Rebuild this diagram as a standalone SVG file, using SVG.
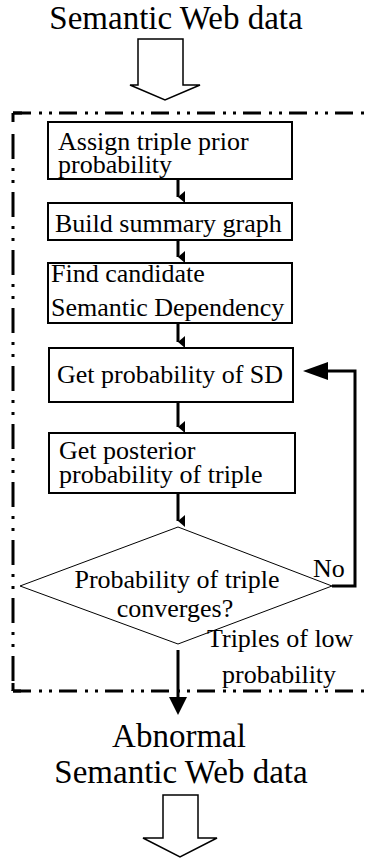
<svg xmlns="http://www.w3.org/2000/svg" width="371" height="858" viewBox="0 0 371 858">
<style>
text{font-family:"Liberation Serif","Times New Roman",serif;fill:#000}
.t{font-size:26px}
.big{font-size:33px}
.box{fill:#fff;stroke:#000;stroke-width:2}
.dia{fill:#fff;stroke:#000;stroke-width:1}
.con{fill:none;stroke:#000;stroke-width:3}
.hollow{fill:#fff;stroke:#000;stroke-width:1.5}
.bv{fill:none;stroke:#000;stroke-width:3;stroke-dasharray:25 9 3 9 3 9}
.bh{fill:none;stroke:#000;stroke-width:3;stroke-dasharray:18 8 3 7 3 7}
</style>
<defs>
<marker id="sm" viewBox="0 0 12 7" refX="6" refY="7" markerWidth="12" markerHeight="7" markerUnits="userSpaceOnUse" orient="auto-start-reverse">
<path d="M0,0 L12,0 L6,7 Z" fill="#000"/>
</marker>
</defs>
<g id="border">
<path class="bv" d="M13,134 L13,691"/>
<path class="bh" d="M13,113 L380,113"/>
<path class="bh" d="M13,691 L380,691"/>
<path d="M13,113 L13,122 M13,113 L22,113 M13,691 L13,683 M13,691 L21,691" stroke="#000" stroke-width="3" fill="none"/>
</g>
<g id="input">
<text class="big" x="176" y="29" text-anchor="middle">Semantic Web data</text>
<path class="hollow" d="M138,39 L183,39 L183,85 L200,85 L165,100 L130,85 L138,85 Z"/>
</g>
<g id="connectors">
<line class="con" x1="178" y1="179" x2="178" y2="197" marker-end="url(#sm)"/>
<line class="con" x1="178" y1="240" x2="178" y2="257" marker-end="url(#sm)"/>
<line class="con" x1="178" y1="323" x2="178" y2="342" marker-end="url(#sm)"/>
<line class="con" x1="178" y1="402" x2="178" y2="427" marker-end="url(#sm)"/>
<line class="con" x1="178" y1="493" x2="178" y2="521" marker-end="url(#sm)"/>
<path class="con" d="M332,586 L355,586 L355,371 L326,371"/>
<path d="M303,371 L328,362 L328,380 Z" fill="#000"/>
<line class="con" x1="178" y1="650" x2="178" y2="700"/>
<path d="M169,697 L187,697 L178,715 Z" fill="#000"/>
</g>
<g id="n1">
<rect class="box" x="48" y="122" width="244" height="57"/>
<text class="t" x="58" y="150">Assign triple prior</text>
<text class="t" x="58" y="173">probability</text>
</g>
<g id="n2">
<rect class="box" x="48" y="203" width="244" height="37"/>
<text class="t" x="55" y="232">Build summary graph</text>
</g>
<g id="n3">
<rect class="box" x="48" y="263" width="244" height="60"/>
<text class="t" x="51" y="282">Find candidate</text>
<text class="t" x="51" y="316">Semantic Dependency</text>
</g>
<g id="n4">
<rect class="box" x="49" y="348" width="244" height="54"/>
<text class="t" x="57" y="383">Get probability of SD</text>
</g>
<g id="n5">
<rect class="box" x="49" y="433" width="246" height="60"/>
<text class="t" x="59" y="459">Get posterior</text>
<text class="t" x="59" y="483">probability of triple</text>
</g>
<g id="decision">
<path class="dia" d="M178,527 L332,586 L178,644 L20,586 Z"/>
<text class="t" x="177" y="588" text-anchor="middle">Probability of triple</text>
<text class="t" x="175" y="617" text-anchor="middle">converges?</text>
</g>
<g id="labels">
<text class="t" x="313" y="577">No</text>
<text class="t" x="207" y="647">Triples of low</text>
<text class="t" x="222" y="683">probability</text>
</g>
<g id="output">
<text class="big" x="179" y="747" text-anchor="middle">Abnormal</text>
<text class="big" x="181" y="783" text-anchor="middle">Semantic Web data</text>
<path class="hollow" d="M163,795 L198,795 L198,838 L217,838 L180,857 L143,838 L163,838 Z"/>
</g>
</svg>
